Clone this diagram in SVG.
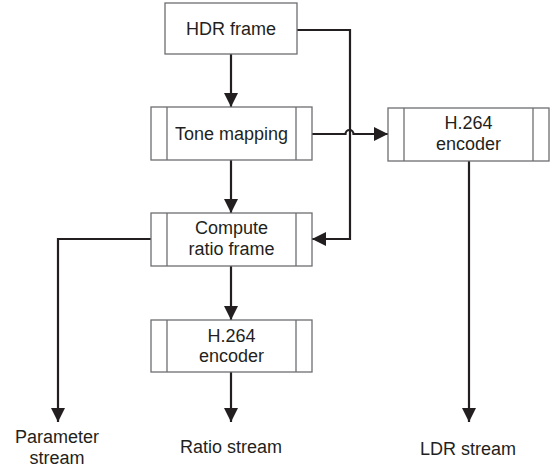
<svg xmlns="http://www.w3.org/2000/svg" width="554" height="471" viewBox="0 0 554 471">
  <style>
    .box { fill: #ffffff; stroke: #6d6e71; stroke-width: 1.3; }
    .bar { stroke: #6d6e71; stroke-width: 1.3; }
    .wire { fill: none; stroke: #231f20; stroke-width: 2.2; }
    text { font-family: "Liberation Sans", Arial, sans-serif; font-size: 18px; fill: #231f20; text-anchor: middle; }
  </style>
  <defs>
    <marker id="arrow" markerUnits="userSpaceOnUse" markerWidth="14" markerHeight="14" refX="14" refY="7" orient="auto">
      <path d="M0,0 L14,7 L0,14 z" fill="#231f20"/>
    </marker>
  </defs>

  <rect width="554" height="471" fill="#ffffff"/>

  <!-- connectors -->
  <g id="connectors">
    <path class="wire" d="M231,54 V107" marker-end="url(#arrow)"/>
    <path class="wire" d="M231,160 V213" marker-end="url(#arrow)"/>
    <path class="wire" d="M231,266 V320" marker-end="url(#arrow)"/>
    <path class="wire" d="M231,372 V422" marker-end="url(#arrow)"/>
    <path class="wire" d="M297,30 H350 V239 H312" marker-end="url(#arrow)"/>
    <path class="wire" d="M312,134 H345.5 A4,4 0 0 1 353.5,134 H388" marker-end="url(#arrow)"/>
    <path class="wire" d="M151,239 H58 V422" marker-end="url(#arrow)"/>
    <path class="wire" d="M469,161 V422" marker-end="url(#arrow)"/>
  </g>

  <!-- HDR frame -->
  <g id="hdr-frame">
    <rect class="box" x="165" y="3" width="132" height="51"/>
    <text x="231" y="35">HDR frame</text>
  </g>

  <!-- Tone mapping -->
  <g id="tone-mapping">
    <rect class="box" x="151" y="107" width="161" height="53"/>
    <line class="bar" x1="167" y1="107" x2="167" y2="160"/>
    <line class="bar" x1="296" y1="107" x2="296" y2="160"/>
    <text x="231.5" y="140">Tone mapping</text>
  </g>

  <!-- Compute ratio frame -->
  <g id="compute-ratio">
    <rect class="box" x="151" y="213" width="161" height="53"/>
    <line class="bar" x1="167" y1="213" x2="167" y2="266"/>
    <line class="bar" x1="296" y1="213" x2="296" y2="266"/>
    <text x="231.5" y="234">Compute</text>
    <text x="231.5" y="255">ratio frame</text>
  </g>

  <!-- H.264 encoder (ratio) -->
  <g id="encoder-ratio">
    <rect class="box" x="151" y="320" width="161" height="52"/>
    <line class="bar" x1="167" y1="320" x2="167" y2="372"/>
    <line class="bar" x1="296" y1="320" x2="296" y2="372"/>
    <text x="231.5" y="342">H.264</text>
    <text x="231.5" y="362">encoder</text>
  </g>

  <!-- H.264 encoder (LDR) -->
  <g id="encoder-ldr">
    <rect class="box" x="388" y="108" width="161" height="53"/>
    <line class="bar" x1="404" y1="108" x2="404" y2="161"/>
    <line class="bar" x1="533" y1="108" x2="533" y2="161"/>
    <text x="468.5" y="129">H.264</text>
    <text x="468.5" y="150">encoder</text>
  </g>

  <!-- outputs -->
  <g id="parameter-stream">
    <text x="57" y="443">Parameter</text>
    <text x="57" y="464">stream</text>
  </g>
  <g id="ratio-stream">
    <text x="231" y="453">Ratio stream</text>
  </g>
  <g id="ldr-stream">
    <text x="468" y="455">LDR stream</text>
  </g>
</svg>
